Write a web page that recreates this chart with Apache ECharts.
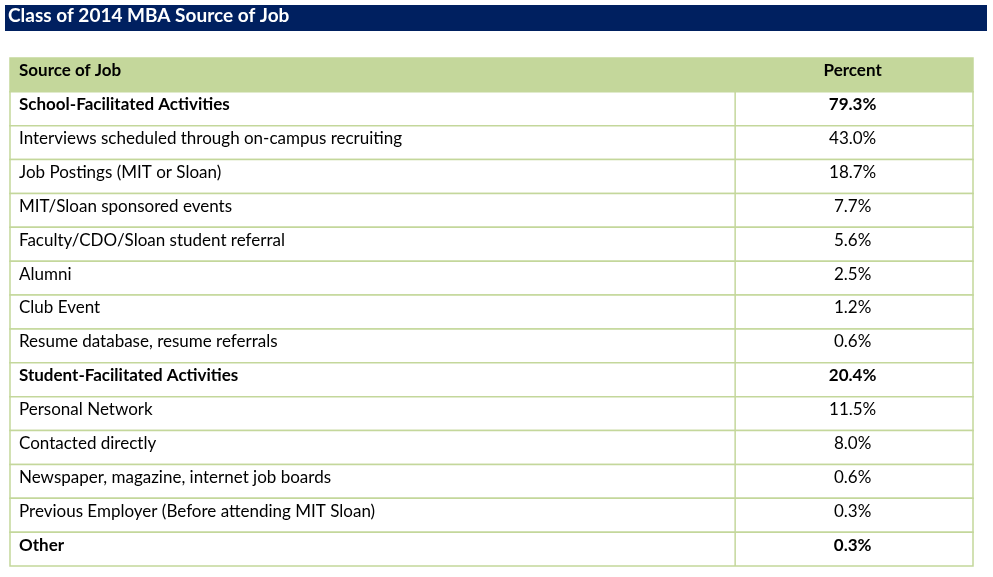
<!DOCTYPE html>
<html>
<head>
<meta charset="utf-8">
<script src="https://cdn.jsdelivr.net/npm/echarts@6/dist/echarts.min.js"></script>
<style>html,body{margin:0;padding:0;background:#fff}#main{width:993px;height:577px}</style>
</head>
<body>
<div id="main"></div>
<script>
const title = 'Class of 2014 MBA Source of Job';
const headers = ['Source of Job', 'Percent'];
const sources = [
  'School-Facilitated Activities',
  'Interviews scheduled through on-campus recruiting',
  'Job Postings (MIT or Sloan)',
  'MIT/Sloan sponsored events',
  'Faculty/CDO/Sloan student referral',
  'Alumni',
  'Club Event',
  'Resume database, resume referrals',
  'Student-Facilitated Activities',
  'Personal Network',
  'Contacted directly',
  'Newspaper, magazine, internet job boards',
  'Previous Employer (Before attending MIT Sloan)',
  'Other'
];
const percents = ['79.3%', '43.0%', '18.7%', '7.7%', '5.6%', '2.5%', '1.2%', '0.6%', '20.4%', '11.5%', '8.0%', '0.6%', '0.3%', '0.3%'];
const boldRows = [true, false, false, false, false, false, false, false, true, false, false, false, false, true];

const rows = [headers[0]].concat(sources);
const green = '#c4d79b';
const font = 'Lato, "Noto Sans", sans-serif';
let chart = echarts.init(document.getElementById('main'));

let option = {
  animation: false,
  graphic: [{
    type: 'rect', shape: { x: 5, y: 5, width: 982, height: 26 },
    style: { fill: '#002060' }
  }, {
    type: 'text', left: 8, top: 6,
    style: { text: title, fill: '#fff', font: 'bold 19px ' + font }
  }],
  grid: { left: 10, right: 20, top: 58, bottom: 11 },
  xAxis: { type: 'value', min: 0, max: 1, show: false },
  yAxis: { type: 'category', inverse: true, data: rows, show: false },
  series: [{
    type: 'custom',
    encode: { x: 0, y: 1 },
    data: rows.map((r, i) => [0, i]),
    renderItem: function (params, api) {
      let i = api.value(1);
      let c = api.coord([0, i]);
      let h = api.size([0, 1])[1];
      let cs = params.coordSys;
      let y = c[1] - h / 2;
      let divX = cs.x + cs.width * 0.753;
      let isHead = i === 0;
      let bold = isHead || boldRows[i - 1];
      let fnt = (bold ? 'bold ' : '') + '17px ' + font;
      let children = [{
        type: 'rect',
        shape: { x: cs.x, y: y, width: cs.width, height: h },
        style: { fill: isHead ? green : '#fff', stroke: green, lineWidth: 1.5 }
      }, {
        type: 'text',
        style: { x: cs.x + 9, y: c[1] - 4, text: rows[i], font: fnt, fill: '#000', verticalAlign: 'middle' }
      }, {
        type: 'text',
        style: { x: cs.x + cs.width * 0.875, y: c[1] - 4, text: isHead ? headers[1] : percents[i - 1], font: fnt, fill: '#000', align: 'center', verticalAlign: 'middle' }
      }];
      if (!isHead) {
        children.push({
          type: 'line', shape: { x1: divX, y1: y, x2: divX, y2: y + h },
          style: { stroke: green, lineWidth: 1.5 }
        });
      }
      return { type: 'group', children: children };
    }
  }]
};
chart.setOption(option);
</script>
</body>
</html>
